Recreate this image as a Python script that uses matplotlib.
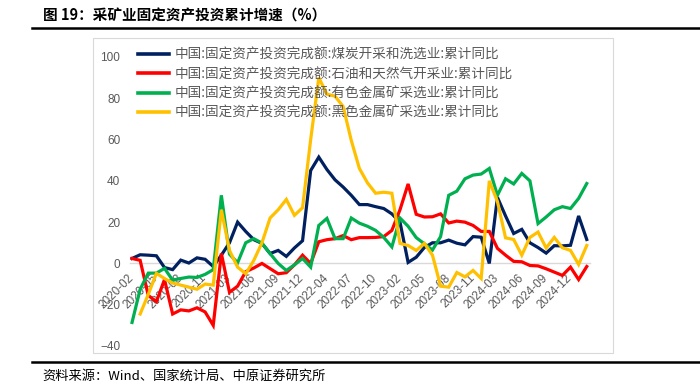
import matplotlib
matplotlib.use("Agg")
import matplotlib.pyplot as plt
import matplotlib.transforms as mtransforms
from matplotlib.lines import Line2D
from matplotlib.patches import Rectangle
import numpy as np

plt.rcParams['font.family'] = ['Noto Sans CJK SC', 'DejaVu Sans']

# 月份：每年 2 月(1-2 月累计)至 12 月，末尾到 2025-03
months = []
for y in range(2020, 2025):
    for m in range(2, 13):
        months.append("%d-%02d" % (y, m))
months += ["2025-02", "2025-03"]

coal = [2.4, 4.2, 4.0, 3.7, -2, -3, 1.6, 0.2, 2.7, 2.0, -1.5,
        4, 10, 20, 15.5, 11.5, 9.7, 4.8, 6.3, 3.4, 7.5, 11,
        45, 51.5, 45.5, 40.5, 37, 33, 28.5, 28.5, 27.5, 26.6, 24,
        20, 0.5, 3, 7.7, 10, 10, 11.3, 9.8, 9, 13, 12.7,
        0, 32, 23, 14.5, 16.5, 10, 7.7, 5, 8.6, 8.5, 8.8,
        23, 11.6]
oil_gas = [2.4, 1.5, -15.5, -18.5, -7.8, -24.5, -22.5, -23, -21.5, -23.5, -30,
           4.8, -14, -11, -4, -2.2, 0, -2.5, -5, -4.5, -0.7, 4,
           0, 10.5, 11.5, 12, 13.5, 11.5, 12.5, 12.5, 12.6, 13, 16,
           26, 38.5, 23.8, 22.5, 22.6, 24, 19.6, 20.5, 20, 18.4, 15.5,
           15.5, 7.3, 4, 1, 0.8, -1, -1.2, -2.6, -4.2, -5.8, -1.8,
           -7.8, -1.5]
nonferrous = [-28.6, -12.5, -4.7, -4.7, -2.4, -8.1, -7.3, -6.6, -6.8, -5.3, -3,
              33, 4.5, 0.3, 10, 12, 9.8, 4.8, 0, -3.4, -0.7, 2.4,
              -1.8, 18.4, 21.8, 12, 12, 22, 19.5, 18, 16, 12.6, 8,
              22, 18, 12.5, 9.5, 6.5, 13, 33, 35, 41, 42.8, 43.3,
              46, 33, 41, 38.5, 43.6, 40, 19.3, 22.5, 26, 27.5, 26.6,
              31.5, 38.7]
ferrous = [np.nan, -24.5, -15, -4.8, -7.3, -9.5, -10.5, -11.5, -12.5, -10, -10.5,
           26, 6.3, -1.8, -5, 1.5, 10, 22, 26, 31, 23.3, 27,
           60, 90, 82, 81, 76, 59.6, 46, 39, 34, 34.5, 34,
           9.7, 8.7, 6.3, 9.7, 4, -11, -11.5, -4.4, -6.5, -3.4, -7.3,
           40, 30, 12.4, 11.6, 4, 12.6, 15.2, 7.5, 12.6, 7.6, 6.3,
           -0.5, 8.7]

names = ["中国:固定资产投资完成额:煤炭开采和洗选业:累计同比",
         "中国:固定资产投资完成额:石油和天然气开采业:累计同比",
         "中国:固定资产投资完成额:有色金属矿采选业:累计同比",
         "中国:固定资产投资完成额:黑色金属矿采选业:累计同比"]
colors = ['#002060', '#FF0000', '#00B050', '#FFC000']
series = [coal, oil_gas, nonferrous, ferrous]

fig = plt.figure(figsize=(7, 3.9), dpi=100)
W, H = 700.0, 390.0
ax = fig.add_axes([130 / W, 1 - 346 / H, 460 / W, 289 / H])

x = np.arange(len(months))
for s, c, n in zip(series, colors, names):
    ax.plot(x, s, color=c, lw=2.3, label=n, solid_joinstyle='miter')

ax.set_xlim(-0.25, len(months) - 1 + 0.4)
ax.set_ylim(-40, 100)
ax.set_yticks(range(-40, 101, 20))
ax.set_xticks(x[::3])

for sp in ['top', 'right', 'left']:
    ax.spines[sp].set_visible(False)
ax.spines['bottom'].set_position(('data', 0))
ax.spines['bottom'].set_color('#d9d9d9')
ax.spines['bottom'].set_linewidth(1.0)
ax.spines['bottom'].set_zorder(0)
ax.tick_params(axis='both', length=0, colors='#595959')
ax.tick_params(axis='y', pad=7, labelsize=8.5)
ax.tick_params(axis='x', pad=6, labelsize=8.5)

ax.set_xticklabels(months[::3])
offset = mtransforms.ScaledTranslation(4 / 100, 0, fig.dpi_scale_trans)
for lab in ax.get_xticklabels():
    lab.set_rotation(45)
    lab.set_ha('right')
    lab.set_va('top')
    lab.set_fontfamily(['Liberation Sans', 'DejaVu Sans'])
    lab.set_transform(lab.get_transform() + offset)
for lab in ax.get_yticklabels():
    lab.set_fontfamily(['Liberation Sans', 'DejaVu Sans'])

leg = ax.legend(loc='upper left', bbox_to_anchor=(138 / W, 1 - 48 / H),
                bbox_transform=fig.transFigure, frameon=False, fontsize=9.8,
                handlelength=2.3, handletextpad=0.4, labelspacing=0.38,
                borderpad=0, borderaxespad=0)
for t in leg.get_texts():
    t.set_color('#595959')
for l in leg.get_lines():
    l.set_linewidth(2.6)

# 图表外框
fig.add_artist(Rectangle((93 / W, 1 - 353 / H), 520 / W, 315 / H, fill=False,
                         ec='#d9d9d9', lw=0.8, transform=fig.transFigure))

# 标题与来源
fig.text(43 / W, 1 - 15 / H, "图 19：采矿业固定资产投资累计增速（%）",
         fontsize=10.5, fontweight='bold', va='center', ha='left')
fig.add_artist(Line2D([32 / W, 1], [1 - 28 / H] * 2, lw=1.8, color='black',
                      transform=fig.transFigure))
fig.add_artist(Line2D([32 / W, 1], [1 - 362 / H] * 2, lw=1.8, color='black',
                      transform=fig.transFigure))
fig.text(42 / W, 1 - 376 / H, "资料来源：Wind、国家统计局、中原证券研究所",
         fontsize=9.5, va='center', ha='left')

fig.savefig("out.png", dpi=100)
